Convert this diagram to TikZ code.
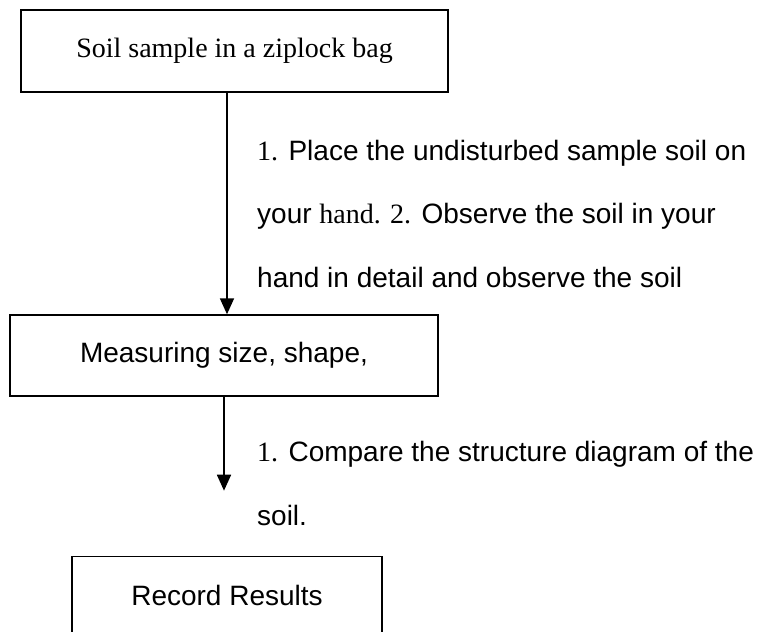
\documentclass[tikz,border=0pt]{standalone}
\usepackage{fontspec}
\setmainfont{Liberation Serif}
\setsansfont{Liberation Sans}
\usetikzlibrary{arrows.meta}
\usetikzlibrary{positioning}

\begin{document}
\begin{tikzpicture}[x=1pt, y=-1pt,
    box/.style={draw, line width=1.4pt, inner sep=0pt, font=\sffamily\fontsize{28}{34}\selectfont},
    note/.style={anchor=base west, align=left, inner sep=0pt, font=\sffamily\fontsize{28}{63.5}\selectfont},
    flow/.style={-{Triangle[length=16pt,width=14pt]}, line width=1.8pt}]
  \useasboundingbox (0,0) rectangle (764,632);
  \clip (0,0) rectangle (764,632);

  \node[box, minimum width=427pt, minimum height=82pt, font=\rmfamily\fontsize{28}{34}\selectfont] (bag) at (234.5,51) {Soil sample in a ziplock bag};
  \node[box, minimum width=428pt, minimum height=81pt] (measure) at (224,355.5) {Measuring size, shape,};
  \node[box, minimum width=310pt, minimum height=82pt, anchor=north] (record) at (227,556) {\raisebox{4pt}{Record Results}};

  \node[note] (observe) at (257,287) {\textrm{1.} Place the undisturbed sample soil on\\
    your \textrm{hand. 2.} Observe the soil in your\\
    hand in detail and observe the soil};
  \node[note] (compare) at (257,525) {\textrm{1.} Compare the structure diagram of the\\
    soil.};

  \coordinate[below=94pt of measure.south] (done);

  \draw[flow] ([xshift=-7.5pt]bag.south) -- ([xshift=-7.5pt]bag.south |- measure.north);
  \draw[flow] (measure.south) -- (done);
\end{tikzpicture}
\end{document}
